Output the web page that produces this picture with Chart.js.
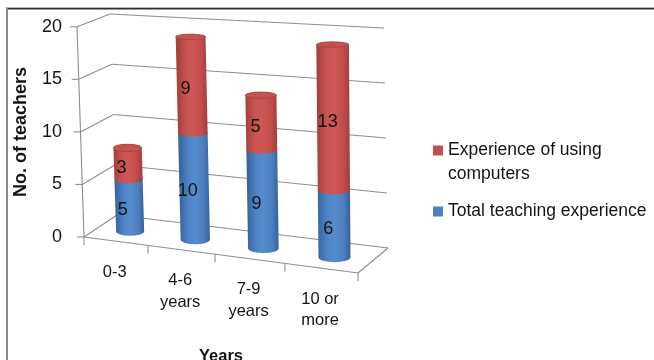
<!DOCTYPE html>
<html>
<head>
<meta charset="utf-8">
<script src="https://cdn.jsdelivr.net/npm/chart.js@4.4.1/dist/chart.umd.min.js"></script>
<style>
  html, body { margin: 0; padding: 0; background: #ffffff; }
  #wrap { width: 654px; height: 360px; }
</style>
</head>
<body>
<div id="wrap"><canvas id="chart" width="654" height="360"></canvas></div>
<script>
// ---- data ----
const categories = [['0-3'], ['4-6', 'years'], ['7-9', 'years'], ['10 or', 'more']];
const teachingExperience = [5, 10, 9, 6];
const computerExperience = [3, 9, 5, 13];
const seriesNames = ['Total teaching experience', 'Experience of using computers'];
const yAxisMax = 20;
const yAxisStep = 5;
const yAxisTitle = 'No. of teachers';
const xAxisTitle = 'Years';

// ---- styling ----
const FONT = '"Liberation Sans", Arial, sans-serif';
const TEXT = '#141414';
const GRID = '#8e8e8e';
const palettes = [
  { // blue
    stops: ['#3a67a4', '#4f85c7', '#568bcc', '#4c80bf', '#36609a'],
    cap: '#4d80c0', rim: '#3b679f', legend: '#4f81bd'
  },
  { // red
    stops: ['#a8403e', '#ca5451', '#ce5855', '#c24e4b', '#a13c3a'],
    cap: '#c5524f', rim: '#a3403d', legend: '#c0504d'
  }
];

// 3D frame of the plot: corners of the box (front/back, left/right, bottom/top).
// The front-left vertical edge takes its heights from the value axis.
const box = {
  flb: [84, 0], flt: [77, 0],
  frb: [358, 273], frt: [359, 41],
  blb: [117, 215], blt: [110, 14],
  brb: [388, 248], brt: [384, 28]
};
const PERSPECTIVE = -0.0839;   // foreshortening along the category direction
const BAR_DEPTH = 0.44;        // depth position of the cylinders (0 front, 1 back)
const BAR_RADIUS_DEPTH = 0.2;  // cylinder radius measured in depth units

const lerp = (a, b, t) => [a[0] + (b[0] - a[0]) * t, a[1] + (b[1] - a[1]) * t];
const warp = u => u * (1 + PERSPECTIVE) / (1 + PERSPECTIVE * u);

function project(u, v, w) {
  const g = warp(u);
  const fl = lerp(box.flb, box.flt, v), fr = lerp(box.frb, box.frt, v);
  const bl = lerp(box.blb, box.blt, v), br = lerp(box.brb, box.brt, v);
  const f = lerp(fl, fr, g), b = lerp(bl, br, g);
  const p = lerp(f, b, w);
  return { x: p[0], y: p[1] };
}

function line(ctx, a, b) {
  ctx.beginPath();
  ctx.moveTo(a.x, a.y);
  ctx.lineTo(b.x, b.y);
  ctx.stroke();
}

function ellipseAt(uc, ru, v) {
  const l = project(uc - ru, v, BAR_DEPTH);
  const r = project(uc + ru, v, BAR_DEPTH);
  const c = project(uc, v, BAR_DEPTH);
  const f = project(uc, v, BAR_DEPTH - BAR_RADIUS_DEPTH);
  const k = project(uc, v, BAR_DEPTH + BAR_RADIUS_DEPTH);
  return { x: (l.x + r.x) / 2, y: c.y, rx: (r.x - l.x) / 2, ry: Math.abs(f.y - k.y) / 2 };
}

function drawSegment(ctx, uc, ru, v0, v1, pal, withCap) {
  const b = ellipseAt(uc, ru, v0), t = ellipseAt(uc, ru, v1);
  const grad = ctx.createLinearGradient(b.x - b.rx, 0, b.x + b.rx, 0);
  const pos = [0, 0.28, 0.5, 0.78, 1];
  pal.stops.forEach((c, i) => grad.addColorStop(pos[i], c));
  ctx.fillStyle = grad;
  ctx.beginPath();
  ctx.moveTo(t.x - t.rx, t.y);
  ctx.lineTo(b.x - b.rx, b.y);
  ctx.ellipse(b.x, b.y, b.rx, b.ry, 0, Math.PI, 0, true);
  ctx.lineTo(t.x + t.rx, t.y);
  ctx.ellipse(t.x, t.y, t.rx, t.ry, 0, 0, Math.PI, true);
  ctx.closePath();
  ctx.fill();
  if (withCap) {
    ctx.beginPath();
    ctx.ellipse(t.x, t.y, t.rx, t.ry, 0, 0, Math.PI * 2);
    ctx.fillStyle = pal.cap;
    ctx.fill();
    ctx.strokeStyle = pal.rim;
    ctx.lineWidth = 0.8;
    ctx.stroke();
  }
}

function wrapText(ctx, text, maxWidth) {
  const words = text.split(' ');
  const lines = [];
  let cur = '';
  words.forEach(wd => {
    const test = cur ? cur + ' ' + wd : wd;
    if (ctx.measureText(test).width > maxWidth && cur) { lines.push(cur); cur = wd; }
    else cur = test;
  });
  if (cur) lines.push(cur);
  return lines;
}

const frame3d = {
  id: 'frame3d',
  beforeDraw(chart) {
    const ctx = chart.ctx;
    ctx.save();
    ctx.fillStyle = '#ffffff';
    ctx.fillRect(0, 0, chart.width, chart.height);
    // outer frame
    ctx.fillStyle = '#b5b5b5';
    ctx.fillRect(6, 7, 648, 1);
    ctx.fillStyle = '#2e2e2e';
    ctx.fillRect(6, 8, 648, 1.5);
    ctx.fillStyle = '#8a8a8a';
    ctx.fillRect(6, 8, 2, chart.height - 8);
    ctx.restore();
  },
  beforeDatasetsDraw(chart) {
    const ctx = chart.ctx;
    const area = chart.chartArea;
    const ys = chart.scales.y;
    const xs = chart.scales.x;
    const vOf = px => (ys.bottom - px) / (ys.bottom - ys.top);
    const uOf = px => (px - area.left) / area.width;

    // front-left edge follows the value axis
    box.flb[1] = ys.getPixelForValue(0);
    box.flt[1] = ys.getPixelForValue(yAxisMax);

    ctx.save();
    ctx.strokeStyle = GRID;
    ctx.lineWidth = 1.1;

    // walls: gridlines on the side wall and the back wall
    ys.ticks.forEach(t => {
      const v = vOf(ys.getPixelForValue(t.value));
      const fl = project(0, v, 0), bl = project(0, v, 1), br = project(1, v, 1);
      line(ctx, fl, bl);
      line(ctx, bl, br);
      line(ctx, { x: fl.x - 7, y: fl.y }, fl);   // tick mark
    });
    // value axis edge
    line(ctx, project(0, 0, 0), project(0, 1, 0));
    // floor edges
    line(ctx, project(0, 0, 0), project(1, 0, 0));
    line(ctx, project(1, 0, 0), project(1, 0, 1));
    // category separators on the floor's front edge
    for (let i = 0; i <= categories.length; i++) {
      const edgePx = i === 0 ? area.left : (xs.getPixelForValue(i - 1) + xs.getPixelForValue(Math.min(i, categories.length - 1))) / 2;
      const u = i === categories.length ? 1 : uOf(edgePx);
      const p = project(u, 0, 0);
      line(ctx, p, { x: p.x, y: p.y + 8 });
    }

    // cylinders, stacked from the datasets' bar elements
    const metas = chart.data.datasets.map((d, i) => chart.getDatasetMeta(i));
    ctx.font = '18px ' + FONT;
    ctx.textAlign = 'center';
    ctx.textBaseline = 'middle';
    for (let i = 0; i < categories.length; i++) {
      const segs = [];
      metas.forEach((meta, di) => {
        const bar = meta.data[i];
        const uc = uOf(bar.x);
        const ru = bar.width / 2 / area.width;
        segs.push({ uc, ru, v0: vOf(bar.base), v1: vOf(bar.y), pal: palettes[di], value: chart.data.datasets[di].data[i] });
      });
      segs.forEach((s, k) => drawSegment(ctx, s.uc, s.ru, s.v0, s.v1, s.pal, k === segs.length - 1));
      ctx.fillStyle = TEXT;
      segs.forEach(s => {
        const p = project(s.uc, (s.v0 + s.v1) / 2, BAR_DEPTH - BAR_RADIUS_DEPTH);
        ctx.fillText(String(s.value), p.x, p.y + 1);
      });
    }

    // category labels under the floor's front edge
    ctx.font = '16.5px ' + FONT;
    ctx.fillStyle = TEXT;
    categories.forEach((lab, i) => {
      const u = uOf(xs.getPixelForValue(i));
      const p = project(u, 0, 0);
      lab.forEach((ln, k) => ctx.fillText(ln, p.x - 1, p.y + 31 + k * 21.5));
    });

    // axis title under the categories
    ctx.font = 'bold 16.5px ' + FONT;
    ctx.textBaseline = 'alphabetic';
    ctx.fillText(xAxisTitle, 221, 361);

    // legend (top series first)
    ctx.font = '17.5px ' + FONT;
    ctx.textAlign = 'left';
    ctx.textBaseline = 'middle';
    const order = chart.data.datasets.map((d, i) => i).reverse();
    const legendTop = [150.5, 211.5];
    order.forEach((di, k) => {
      const ds = chart.data.datasets[di];
      const y0 = legendTop[k];
      ctx.fillStyle = palettes[di].legend;
      ctx.fillRect(433, y0 - 5, 10, 10);
      ctx.fillStyle = TEXT;
      wrapText(ctx, ds.label, 212).forEach((ln, j) => ctx.fillText(ln, 448, y0 + j * 23.5));
    });
    ctx.restore();
    return false;
  }
};

const chart = new Chart(document.getElementById('chart'), {
  type: 'bar',
  data: {
    labels: categories,
    datasets: [
      { label: seriesNames[0], data: teachingExperience, backgroundColor: palettes[0].legend },
      { label: seriesNames[1], data: computerExperience, backgroundColor: palettes[1].legend }
    ]
  },
  options: {
    responsive: false,
    animation: false,
    devicePixelRatio: 1,
    layout: { padding: { left: 6, top: 24, right: 296, bottom: 123 } },
    datasets: { bar: { categoryPercentage: 1, barPercentage: 0.44 } },
    scales: {
      x: { display: false, stacked: true },
      y: {
        stacked: true,
        min: 0,
        max: yAxisMax,
        ticks: { stepSize: yAxisStep, padding: 16, color: TEXT, font: { family: FONT, size: 18 } },
        grid: { display: false, drawTicks: false },
        border: { display: false },
        title: {
          display: true, text: yAxisTitle, color: TEXT,
          font: { family: FONT, size: 18, weight: 'bold' },
          padding: { top: 4, bottom: 0 }
        },
        afterFit(scale) { scale.width = 72; }
      }
    },
    plugins: { legend: { display: false }, tooltip: { enabled: false } }
  },
  plugins: [frame3d]
});
</script>
</body>
</html>
